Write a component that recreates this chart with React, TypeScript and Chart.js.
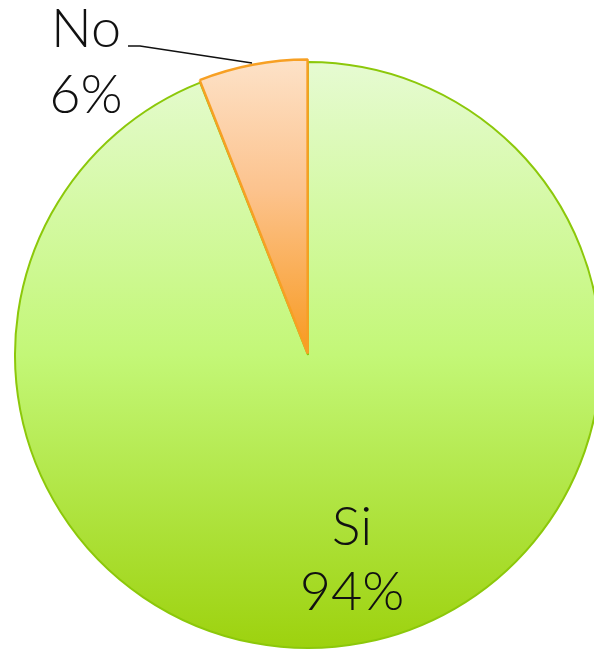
import React, { useEffect, useRef } from "react";
import { Chart, registerables } from "chart.js";

Chart.register(...registerables);

const categories = ["Si", "No"];
const values = [94, 6];
const offsets = [0, 6];

const RADIUS = 293;
const FONT = "300 54px Lato, 'DejaVu Sans', sans-serif";

const labelPlugin = {
  id: "pieLabels",
  afterDatasetsDraw(chart: any) {
    const ctx = chart.ctx;
    const meta = chart.getDatasetMeta(0);
    const arc0 = meta.data[0];
    if (!arc0) return;
    const cx = arc0.x;
    const cy = arc0.y;
    const total = values.reduce((a, b) => a + b, 0);
    ctx.save();
    ctx.font = FONT;
    ctx.fillStyle = "#111";
    ctx.textAlign = "center";
    ctx.textBaseline = "alphabetic";
    const pSi = Math.round((values[0] / total) * 100) + "%";
    ctx.fillText(categories[0], cx + 44, cy + 190);
    ctx.fillText(pSi, cx + 44, cy + 255);
    const pNo = Math.round((values[1] / total) * 100) + "%";
    ctx.fillText(categories[1], cx - 222, cy - 308);
    ctx.fillText(pNo, cx - 222, cy - 242);
    ctx.strokeStyle = "#111";
    ctx.lineWidth = 1.5;
    ctx.beginPath();
    ctx.moveTo(cx - 180, cy - 309);
    ctx.lineTo(cx - 168, cy - 309);
    ctx.lineTo(cx - 56, cy - 292);
    ctx.stroke();
    ctx.restore();
  },
};

function makeFill(context: any) {
  const chart = context.chart;
  const area = chart.chartArea;
  if (!area) return context.dataIndex === 0 ? "#c4f878" : "#fbb868";
  const cy = (area.top + area.bottom) / 2;
  const g = chart.ctx;
  if (context.dataIndex === 0) {
    const grad = g.createLinearGradient(0, cy - RADIUS, 0, cy + RADIUS);
    grad.addColorStop(0, "#e6fbd2");
    grad.addColorStop(0.5, "#c3f777");
    grad.addColorStop(1, "#9dd20e");
    return grad;
  }
  const grad = g.createLinearGradient(0, cy - RADIUS - 6, 0, cy);
  grad.addColorStop(0, "#fde3ca");
  grad.addColorStop(0.45, "#fcc38e");
  grad.addColorStop(1, "#f89a20");
  return grad;
}

export default function App() {
  const ref = useRef<HTMLCanvasElement | null>(null);
  useEffect(() => {
    if (!ref.current) return;
    const chart = new Chart(ref.current, {
      type: "pie",
      data: {
        labels: categories,
        datasets: [
          {
            data: values,
            backgroundColor: makeFill,
            borderColor: ["#8cc80a", "#f7a024"],
            borderWidth: [2, 2.5],
            offset: offsets,
            radius: RADIUS,
          } as any,
        ],
      },
      options: {
        responsive: false,
        animation: false,
        layout: { padding: { left: 22, right: 0, top: 60, bottom: 0 } },
        plugins: {
          legend: { display: false },
          tooltip: { enabled: false },
        },
      },
      plugins: [labelPlugin],
    });
    return () => chart.destroy();
  }, []);
  return (
    <div style={{ position: "absolute", left: 0, top: 0, width: 594, height: 650, background: "#fff" }}>
      <canvas ref={ref} width={594} height={650} />
    </div>
  );
}
